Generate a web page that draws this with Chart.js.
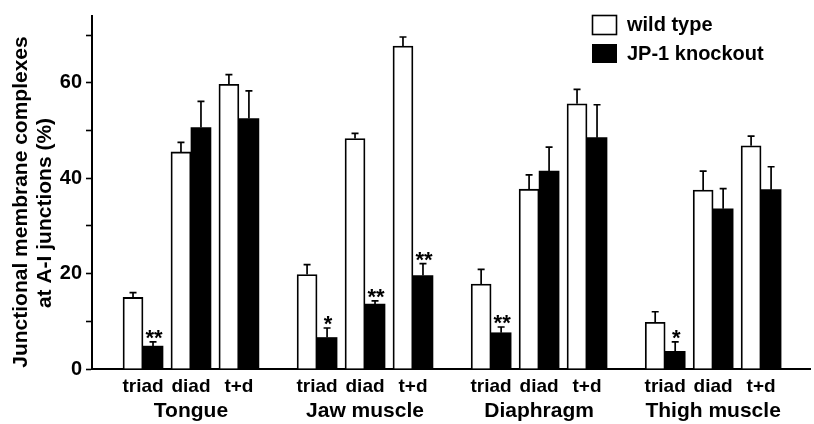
<!DOCTYPE html>
<html>
<head>
<meta charset="utf-8">
<script src="https://cdn.jsdelivr.net/npm/chart.js@4/dist/chart.umd.min.js"></script>
<style>
  html, body { margin: 0; padding: 0; background: #fff; }
  #wrap { width: 814px; height: 424px; }
</style>
</head>
<body>
<div id="wrap"><canvas id="chart"></canvas></div>
<script>
// muscles and junction types
const groups = ["Tongue", "Jaw muscle", "Diaphragm", "Thigh muscle"];
const cats = ["triad", "diad", "t+d"];

// values (%), in order group by group
const wildType   = [15.0, 45.5, 59.7, 19.8, 48.3, 67.7, 17.8, 37.7, 55.6, 9.8, 37.5, 46.8];
const wildErr    = [1.0, 2.0, 2.0, 2.1, 1.1, 1.9, 3.1, 3.0, 3.0, 2.2, 4.0, 2.0];
const knockout   = [4.8, 50.6, 52.5, 6.6, 13.6, 19.6, 7.6, 41.5, 48.5, 3.7, 33.6, 37.6];
const knockErr   = [0.9, 5.5, 5.8, 2.0, 0.7, 2.5, 1.2, 5.0, 6.9, 2.0, 4.2, 4.8];
const stars      = ["**", "", "", "*", "**", "**", "**", "", "", "*", "", ""];

const yTicks = [0, 10, 20, 30, 40, 50, 60, 70];
const yTitle = ["Junctional membrane complexes", "at A-I junctions (%)"];

const FONT = '"Liberation Sans", Arial, Helvetica, sans-serif';
const GROUP_STEP = 3.63; // distance between groups, in category units

// x position of every bar pair
const xPos = [];
groups.forEach((g, gi) => cats.forEach((c, ci) => xPos.push(gi * GROUP_STEP + ci)));

const toPoints = arr => arr.map((v, i) => ({ x: xPos[i], y: v }));

// error bars (upward only) and significance stars
const errorBars = {
    id: "errorBars",
    afterDatasetsDraw(chart) {
        const ctx = chart.ctx;
        const y = chart.scales.y;
        const errs = [wildErr, knockErr];
        const vals = [wildType, knockout];
        ctx.save();
        ctx.strokeStyle = "#000";
        ctx.fillStyle = "#000";
        ctx.lineWidth = 1.7;
        [0, 1].forEach(di => {
            chart.getDatasetMeta(di).data.forEach((bar, i) => {
                const top = y.getPixelForValue(vals[di][i] + errs[di][i]);
                ctx.beginPath();
                ctx.moveTo(bar.x, bar.y);
                ctx.lineTo(bar.x, top);
                ctx.moveTo(bar.x - 3.5, top);
                ctx.lineTo(bar.x + 3.5, top);
                ctx.stroke();
                if (di === 1 && stars[i]) {
                    ctx.font = "bold 22px " + FONT;
                    ctx.textAlign = "center";
                    ctx.textBaseline = "alphabetic";
                    ctx.fillText(stars[i], bar.x + 1, top + 3);
                }
            });
        });
        ctx.restore();
    }
};

// group names, y title and legend
const decorations = {
    id: "decorations",
    afterDraw(chart) {
        const ctx = chart.ctx;
        const x = chart.scales.x;
        ctx.save();
        ctx.fillStyle = "#000";

        ctx.font = "bold 21px " + FONT;
        ctx.textAlign = "center";
        ctx.textBaseline = "alphabetic";
        groups.forEach((g, gi) => {
            ctx.fillText(g, x.getPixelForValue(gi * GROUP_STEP + 1), 417);
        });

        ctx.font = "bold 21px " + FONT;
        ctx.textBaseline = "middle";
        [[21, 202], [45, 213]].forEach((p, li) => {
            ctx.save();
            ctx.translate(p[0], p[1]);
            ctx.rotate(-Math.PI / 2);
            ctx.fillText(yTitle[li], 0, 0);
            ctx.restore();
        });

        // legend
        ctx.lineWidth = 1.6;
        ctx.strokeStyle = "#000";
        ctx.fillStyle = "#fff";
        ctx.fillRect(592.5, 15.5, 24, 19);
        ctx.strokeRect(592.5, 15.5, 24, 19);
        ctx.fillStyle = "#000";
        ctx.fillRect(592, 44, 25, 19);
        ctx.font = "bold 20px " + FONT;
        ctx.textAlign = "left";
        ctx.fillText("wild type", 627, 25);
        ctx.fillText("JP-1 knockout", 627, 54);
        ctx.restore();
    }
};

new Chart(document.getElementById("chart"), {
    type: "bar",
    data: {
        datasets: [
            {
                label: "wild type",
                data: toPoints(wildType),
                backgroundColor: "#fff",
                borderColor: "#000",
                borderWidth: 1.8,
                barThickness: 20
            },
            {
                label: "JP-1 knockout",
                data: toPoints(knockout),
                backgroundColor: "#000",
                borderColor: "#000",
                borderWidth: 0,
                barThickness: 20
            }
        ]
    },
    options: {
        responsive: true,
        maintainAspectRatio: false,
        animation: false,
        layout: { padding: { top: 9, right: 4, left: 0, bottom: 0 } },
        plugins: {
            legend: { display: false },
            tooltip: { enabled: false }
        },
        scales: {
            x: {
                type: "linear",
                offset: false,
                min: -1.064,
                max: 13.91,
                afterBuildTicks: scale => {
                    scale.ticks = xPos.map(v => ({ value: v }));
                },
                afterFit: scale => { scale.height = 55; },
                grid: { drawOnChartArea: false, drawTicks: false },
                border: { display: true, color: "#000", width: 2 },
                ticks: {
                    color: "#000",
                    padding: 6,
                    maxRotation: 0,
                    autoSkip: false,
                    font: { family: FONT, size: 19, weight: "bold" },
                    callback: (v, i) => cats[i % 3]
                }
            },
            y: {
                min: 0,
                max: 74,
                afterBuildTicks: scale => {
                    scale.ticks = yTicks.map(v => ({ value: v }));
                },
                afterFit: scale => { scale.width = 92; },
                grid: {
                    drawOnChartArea: false,
                    drawTicks: true,
                    tickLength: 6,
                    tickWidth: 1.6,
                    tickColor: "#000"
                },
                border: { display: true, color: "#000", width: 2 },
                ticks: {
                    color: "#000",
                    padding: 4,
                    font: { family: FONT, size: 20, weight: "bold" },
                    callback: v => (v % 20 === 0 ? v : "")
                }
            }
        }
    },
    plugins: [errorBars, decorations]
});
</script>
</body>
</html>
